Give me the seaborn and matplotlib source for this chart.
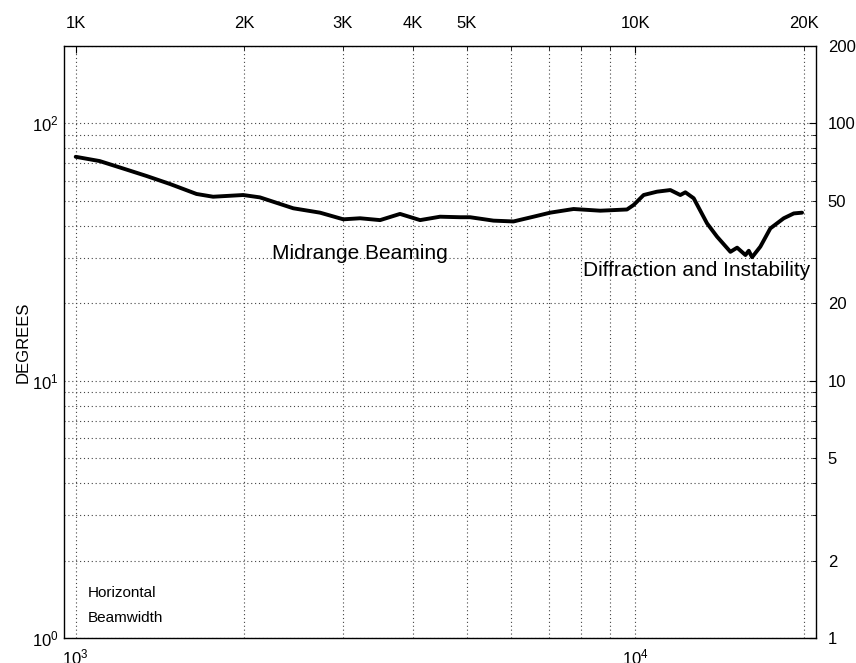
import numpy as np
import pandas as pd
import matplotlib
matplotlib.use("Agg")
import matplotlib.pyplot as plt
import seaborn as sns
from matplotlib.ticker import LogLocator, NullFormatter, FixedLocator, FixedFormatter

# Horizontal beamwidth vs frequency
freq_hz = [1000, 1104, 1232, 1338, 1473, 1644, 1760, 1992, 2134, 2448, 2733, 3008,
           3222, 3499, 3798, 4125, 4478, 4865, 5068, 5580, 6058, 6577, 7046, 7757,
           8659, 9663, 9932, 10349, 10935, 11551, 12036, 12288, 12716, 13434, 14000,
           14791, 15205, 15733, 15950, 16170, 16730, 17433, 18420, 19198, 19862]
beam_deg = [74.2, 71.4, 66.2, 62.5, 58.2, 53.2, 51.9, 52.7, 51.6, 46.8, 45.0, 42.4,
            42.8, 42.1, 44.5, 42.1, 43.4, 43.2, 43.2, 41.9, 41.6, 43.4, 45.0, 46.5,
            45.8, 46.3, 48.2, 52.7, 54.3, 55.1, 52.7, 54.0, 51.2, 40.9, 36.3,
            31.7, 32.9, 30.8, 32.0, 30.2, 33.2, 39.1, 42.8, 44.7, 45.0]

top_ticks = [1000, 2000, 3000, 4000, 5000, 10000, 20000]
top_labels = ["1K", "2K", "3K", "4K", "5K", "10K", "20K"]
right_ticks = [200, 100, 50, 20, 10, 5, 2, 1]
right_labels = ["200", "100", "50", "20", "10", "5", "2", "1"]

sns.set_theme(style="white")
plt.rcParams['font.family'] = ['Liberation Sans', 'DejaVu Sans']
plt.rcParams['mathtext.fontset'] = 'custom'
plt.rcParams['mathtext.rm'] = 'Liberation Sans'
plt.rcParams['mathtext.it'] = 'Liberation Sans'
plt.rcParams['text.color'] = 'black'
plt.rcParams['axes.labelcolor'] = 'black'
plt.rcParams['xtick.color'] = 'black'
plt.rcParams['ytick.color'] = 'black'

df = pd.DataFrame({"freq": freq_hz, "beam": beam_deg})

fig = plt.figure(figsize=(8.56, 6.63), dpi=100)
ax = fig.add_axes([64 / 856, 25 / 663, 752 / 856, 592 / 663])

sns.lineplot(data=df, x="freq", y="beam", color="black", linewidth=2.8, ax=ax)

ax.set_xscale("log")
ax.set_yscale("log")
ax.set_xlim(953, 21035)
ax.set_ylim(1, 200)

ax.xaxis.set_minor_locator(LogLocator(base=10, subs=np.arange(2, 10)))
ax.yaxis.set_minor_locator(LogLocator(base=10, subs=np.arange(2, 10)))
ax.xaxis.set_minor_formatter(NullFormatter())
ax.yaxis.set_minor_formatter(NullFormatter())

ax.grid(True, which="both", linestyle=(0, (1, 2.5)), color="#444444", linewidth=0.8)
ax.tick_params(which="both", direction="in", top=True, right=True, labelsize=12)
ax.tick_params(which="major", length=5, width=0.8)
ax.tick_params(which="minor", length=3, width=0.6)
ax.tick_params(axis="x", pad=7)
ax.tick_params(axis="y", pad=4)
for s in ax.spines.values():
    s.set_color("black")
    s.set_linewidth(1.0)

ax.set_xlabel("")
ax.set_ylabel("DEGREES", fontsize=12, labelpad=1)

# top frequency labels
top = ax.secondary_xaxis("top")
top.xaxis.set_major_locator(FixedLocator(top_ticks))
top.xaxis.set_major_formatter(FixedFormatter(top_labels))
top.xaxis.set_minor_locator(FixedLocator([]))
top.tick_params(length=0, pad=10.5, labelsize=12)
top.spines["top"].set_visible(False)

# right degree labels
right = ax.secondary_yaxis("right")
right.yaxis.set_major_locator(FixedLocator(right_ticks))
right.yaxis.set_major_formatter(FixedFormatter(right_labels))
right.yaxis.set_minor_locator(FixedLocator([]))
right.tick_params(length=0, pad=8.5, labelsize=12)
right.spines["right"].set_visible(False)

ax.text(2243, 31.3, "Midrange Beaming", fontsize=15, ha="left", va="center")
ax.text(8066, 26.9, "Diffraction and Instability", fontsize=15, ha="left", va="center")
ax.text(0.032, 0.076, "Horizontal", transform=ax.transAxes, fontsize=11, ha="left", va="center")
ax.text(0.032, 0.034, "Beamwidth", transform=ax.transAxes, fontsize=11, ha="left", va="center")

fig.savefig("out.png", dpi=100)
